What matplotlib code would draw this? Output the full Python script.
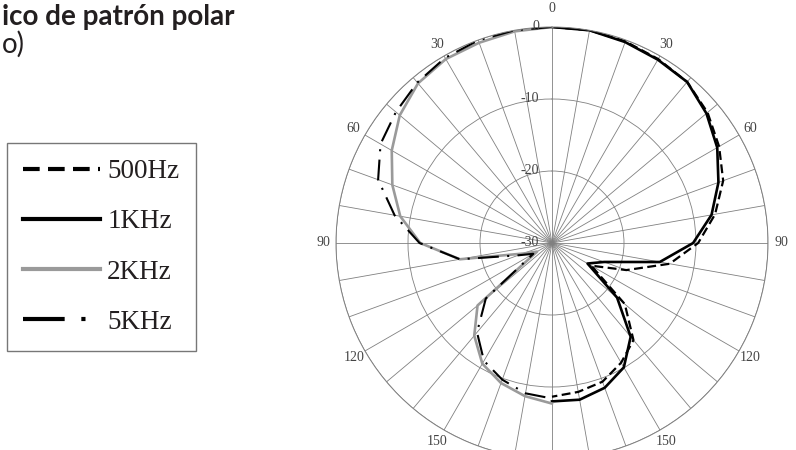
import numpy as np
import matplotlib.pyplot as plt

# angulos (grados) y niveles relativos (dB)
angulos = np.arange(0, 190, 10)
hz500 = [0, 0, -0.2, -0.5, -0.8, -1.8, -3.2, -4.7, -7.0, -9.7, -13.4, -19.0,
         -23.7, -16.8, -12.4, -10.8, -9.5, -9.0, -8.65]
khz1 = [0, 0, -0.3, -0.6, -0.8, -2.0, -3.5, -5.4, -7.5, -10.4, -14.8, -22.3,
        -24.3, -18.2, -13.0, -10.05, -8.6, -7.9, -8.0]
khz2 = [0, -0.15, -0.4, -0.5, -1.05, -2.4, -4.3, -6.4, -8.6, -11.7, -17.0, -25.7,
        -27.6, -16.5, -13.2, -10.65, -9.3, -8.4, -7.7]
khz5 = [0, 0, -0.05, -0.3, -0.9, -1.7, -2.5, -4.3, -7.8, -11.6, -17.0, -25.0,
        -27.0, -18.0, -13.8, -11.1, -9.8, -8.8, -8.4]

anillos = [-30, -20, -10, 0]
etiquetas_anillos = ['-30', '-20', '-10', '0']
angulos_etiqueta = [0, 30, 60, 90, 120, 150]

serif = 'Liberation Serif'
gris = '#808080'

fig = plt.figure(figsize=(7.96, 4.5), dpi=100)
ax = fig.add_axes([336 / 796, -9 / 450, 432 / 796, 432 / 450], projection='polar')
ax.set_theta_zero_location('N')
ax.set_theta_direction(-1)

t = np.deg2rad(angulos)
l1k, = ax.plot(t, khz1, color='black', lw=1.9, label='1KHz')
l500, = ax.plot(t, hz500, color='black', lw=1.6, dashes=(4, 2), label='500Hz')
l2k, = ax.plot(-t, khz2, color='#9a9a9a', lw=1.9, label='2KHz')
l5k, = ax.plot(-t, khz5, color='black', lw=1.5, dashes=(10, 4, 1, 4), label='5KHz')

ax.set_ylim(-30, 0)
ax.set_xticks(np.deg2rad(np.arange(0, 360, 10)))
ax.set_xticklabels([])
ax.set_yticks(anillos)
ax.set_yticklabels([])
ax.grid(True, color=gris, lw=0.6)
ax.spines['polar'].set_color(gris)
ax.spines['polar'].set_linewidth(0.7)

# etiquetas de los anillos
for r, lbl in zip(anillos, etiquetas_anillos):
    ax.annotate(lbl, xy=(0, r), xytext=(-13, 0), textcoords='offset pixels',
                ha='right', va='center', fontfamily=serif, fontsize=10, color='#444444')

# etiquetas de angulo en ambos lados
for a in angulos_etiqueta:
    r_lab = 2.6 if a == 0 else 1.8
    ax.text(np.deg2rad(a), r_lab, str(a), ha='center', va='center',
            fontfamily=serif, fontsize=10, color='#444444')
    if a != 0:
        ax.text(-np.deg2rad(a), r_lab, str(a), ha='center', va='center',
                fontfamily=serif, fontsize=10, color='#444444')

leg = fig.legend(handles=[l500, l1k, l2k, l5k], loc='upper left',
                 bbox_to_anchor=(7 / 796, 1 - 143 / 450), borderaxespad=0,
                 frameon=True, fancybox=False, edgecolor='#555555',
                 prop={'family': serif, 'size': 19.5}, handlelength=2.85,
                 handletextpad=0.25, borderpad=0.6, labelspacing=0.93)
leg.get_frame().set_linewidth(1.0)
for h in leg.get_lines():
    h.set_linewidth(3.0)
for txt in leg.get_texts():
    txt.set_color('#231f20')

fig.text(2 / 796, 1 - 25 / 450, 'ico de patrón polar', fontfamily='Lato',
         fontweight='bold', fontsize=20, va='baseline', color='#231f20')
fig.text(2 / 796, 1 - 53 / 450, 'o)', fontfamily='Lato', fontsize=20,
         va='baseline', color='#231f20')

fig.savefig('out.png', dpi=100)
